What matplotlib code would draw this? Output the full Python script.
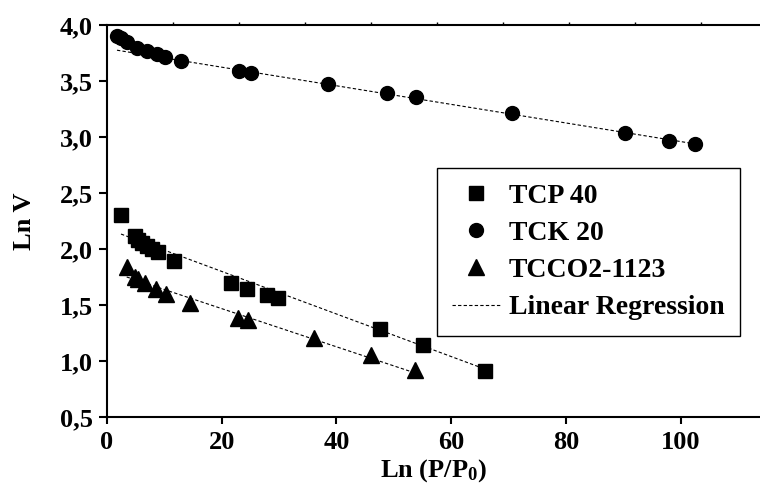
import numpy as np
import matplotlib
matplotlib.use('Agg')
import matplotlib.pyplot as plt
from matplotlib.ticker import FuncFormatter
from matplotlib.lines import Line2D

plt.rcParams['font.family'] = ['Liberation Serif', 'DejaVu Serif']
plt.rcParams['font.weight'] = 'bold'
plt.rcParams['mathtext.fontset'] = 'custom'
plt.rcParams['mathtext.rm'] = 'Liberation Serif:bold'
plt.rcParams['mathtext.it'] = 'Liberation Serif:bold'
plt.rcParams['mathtext.bf'] = 'Liberation Serif:bold'
plt.rcParams['mathtext.default'] = 'bf'

# === Data ===
tcp_x = [2.49, 4.93, 5.50, 6.20, 6.96, 7.84, 8.88, 11.75, 21.64, 24.43, 27.91, 29.83, 47.59, 55.13, 65.90]
tcp_y = [2.305, 2.114, 2.087, 2.059, 2.029, 2.000, 1.973, 1.898, 1.702, 1.646, 1.592, 1.568, 1.289, 1.146, 0.917]

tck_x = [1.79, 2.49, 3.45, 5.28, 6.93, 8.76, 10.2, 12.94, 23.09, 25.18, 38.48, 48.81, 53.86, 70.58, 90.2, 97.86, 102.49]
tck_y = [3.902, 3.881, 3.848, 3.799, 3.768, 3.741, 3.718, 3.682, 3.592, 3.575, 3.471, 3.396, 3.355, 3.218, 3.040, 2.968, 2.939]

tcco_x = [3.48, 4.93, 5.50, 6.67, 8.58, 10.33, 14.42, 22.92, 24.66, 36.04, 46.02, 53.73]
tcco_y = [1.845, 1.755, 1.732, 1.695, 1.643, 1.600, 1.521, 1.390, 1.370, 1.212, 1.060, 0.924]

# linear regression (slope, intercept) as drawn on the chart
tcp_fit = [-0.0190, 2.183]
tck_fit = [-0.0083, 3.790]
tcco_fit = [-0.01704, 1.812]

labels = ['TCP 40', 'TCK 20', 'TCCO2-1123', 'Linear Regression']
top_ticks = [11.5, 23.0, 34.5, 46.0, 57.5, 69.0, 80.5, 92.0, 103.5]

fs = 19

fig = plt.figure(figsize=(7.6, 4.9), dpi=100)
ax = fig.add_axes([0.1404, 0.148, 0.8596, 0.801])

# === Regression lines ===
for xs, fit in [(tcp_x, tcp_fit), (tck_x, tck_fit), (tcco_x, tcco_fit)]:
    lx = np.array([min(xs), max(xs)])
    ax.plot(lx, fit[0] * lx + fit[1], color='black', linestyle=(0, (3, 2)), linewidth=0.8, zorder=2)

# === Points ===
ax.plot(tcp_x, tcp_y, 's', color='black', markersize=9.5, linestyle='none', zorder=3)
ax.plot(tck_x, tck_y, 'o', color='black', markersize=10, linestyle='none', zorder=3)
ax.plot(tcco_x, tcco_y, '^', color='black', markersize=11.5, linestyle='none', zorder=3)

ax.set_xlim(0, 113.75)
ax.set_ylim(0.5, 4.0)
ax.set_xticks([0, 20, 40, 60, 80, 100])
ax.set_yticks(np.arange(0.5, 4.01, 0.5))
ax.yaxis.set_major_formatter(FuncFormatter(lambda v, p: f'{v:.1f}'.replace('.', ',')))

ax.tick_params(axis='both', direction='out', width=1.5, labelsize=fs)
ax.tick_params(axis='y', length=6, pad=4)
ax.tick_params(axis='x', length=5, pad=5)
for s in ['left', 'bottom', 'top']:
    ax.spines[s].set_linewidth(1.5)
ax.spines['right'].set_visible(False)

sec = ax.secondary_xaxis('top')
sec.set_xticks(top_ticks)
sec.tick_params(length=2, width=1, labeltop=False)
sec.spines['top'].set_visible(False)

ax.set_xlabel(r'Ln (P/P$_0$)', fontsize=fs, fontweight='bold', labelpad=2)
ax.set_ylabel('Ln V', fontsize=fs, fontweight='bold', labelpad=17)

# === Legend ===
handles = [
    Line2D([], [], marker='s', color='black', linestyle='none', markersize=9.5),
    Line2D([], [], marker='o', color='black', linestyle='none', markersize=10),
    Line2D([], [], marker='^', color='black', linestyle='none', markersize=11.5),
    Line2D([], [], color='black', linestyle=(0, (3, 2)), linewidth=0.8),
]
leg = ax.legend(handles, labels, loc='upper right', bbox_to_anchor=(0.9694, 0.635),
                borderaxespad=0, fontsize=20, frameon=True, fancybox=False,
                edgecolor='black', framealpha=1, handlelength=1.75,
                handletextpad=0.3, borderpad=0.55, labelspacing=0.42)
leg.get_frame().set_linewidth(1.0)

fig.savefig('out.png', dpi=100)
